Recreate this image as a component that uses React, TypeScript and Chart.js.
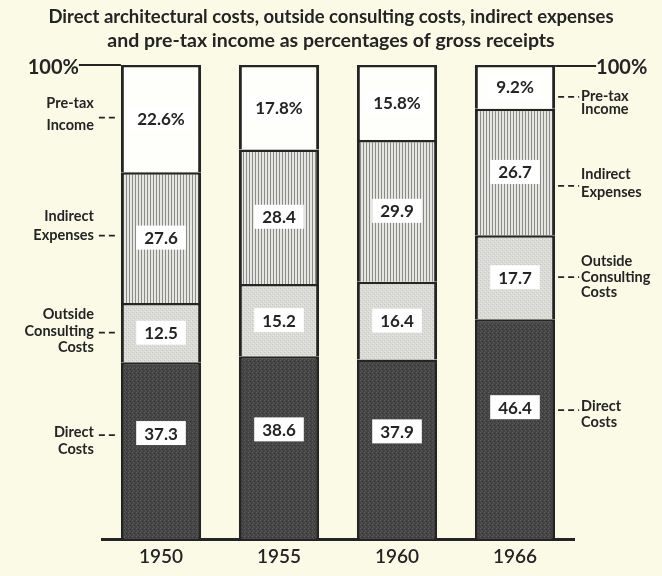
import React, { useEffect, useRef } from 'react';
import { Chart, registerables } from 'chart.js';

Chart.register(...registerables);

const categories = ['1950', '1955', '1960', '1966'];
const directCosts = [37.3, 38.6, 37.9, 46.4];
const outsideConsulting = [12.5, 15.2, 16.4, 17.7];
const indirectExpenses = [27.6, 28.4, 29.9, 26.7];
const pretaxIncome = [22.6, 17.8, 15.8, 9.2];
const seriesNames = [
  ['Direct', 'Costs'],
  ['Outside', 'Consulting', 'Costs'],
  ['Indirect', 'Expenses'],
  ['Pre-tax', 'Income'],
];
const titleLines = [
  'Direct architectural costs, outside consulting costs, indirect expenses',
  'and pre-tax income as percentages of gross receipts',
];
const topTickLabel = '100%';

const BG = '#fbfae7';
const INK = '#242424';
const FONT = 'Lato, "Open Sans", sans-serif';

// style: where the value box sits inside each segment (fraction from bottom)
const labelFraction = [0.6, 0.5, 0.5, 0.5];
// style: side label layout (dash offset from box centre, line offsets from dash)
const leftLayout = [
  { dash: 2, lines: [-3, 14] },
  { dash: 0, lines: [-18, -1, 15] },
  { dash: -2, lines: [-19, 0] },
  { dash: -1, lines: [-14, 8] },
];
const rightLayout = [
  { dash: 3, lines: [-4, 12] },
  { dash: 0, lines: [-16, 0, 15] },
  { dash: 14, lines: [-12, 6] },
  { dash: 10, lines: [0, 13] },
];

function makePattern(w: number, h: number, draw: (g: CanvasRenderingContext2D) => void) {
  const c = document.createElement('canvas');
  c.width = w;
  c.height = h;
  const g = c.getContext('2d')!;
  draw(g);
  return g.createPattern(c, 'repeat')!;
}

function px(g: CanvasRenderingContext2D, x: number, y: number, col: string) {
  g.fillStyle = col;
  g.fillRect(x, y, 1, 1);
}

export default function App() {
  const ref = useRef<HTMLCanvasElement | null>(null);

  useEffect(() => {
    document.body.style.margin = '0';
    document.body.style.background = BG;
    const canvas = ref.current!;

    const darkPat = makePattern(4, 4, (g) => {
      g.fillStyle = '#454545';
      g.fillRect(0, 0, 4, 4);
      px(g, 0, 0, '#5e5e5e');
      px(g, 2, 1, '#333333');
      px(g, 1, 2, '#555555');
      px(g, 3, 3, '#3a3a3a');
      px(g, 2, 3, '#5a5a5a');
    });
    const lightPat = makePattern(4, 4, (g) => {
      g.fillStyle = '#dadad6';
      g.fillRect(0, 0, 4, 4);
      px(g, 0, 0, '#c6c6c2');
      px(g, 2, 2, '#c8c8c4');
      px(g, 1, 3, '#ebebe7');
      px(g, 3, 1, '#e6e6e2');
    });
    const stripePat = makePattern(3, 4, (g) => {
      g.fillStyle = '#e6e6e2';
      g.fillRect(0, 0, 3, 4);
      g.fillStyle = '#8a8a88';
      g.fillRect(0, 0, 1, 4);
    });
    const whiteFill = '#fefefb';

    const annotate = {
      id: 'annotate',
      afterDatasetsDraw(chart: any) {
        const ctx = chart.ctx as CanvasRenderingContext2D;
        const ys = chart.scales.y;
        const n = chart.data.labels.length;
        const centers: number[][] = [];
        ctx.save();
        // value boxes
        chart.data.datasets.forEach((ds: any, di: number) => {
          const meta = chart.getDatasetMeta(di);
          centers[di] = [];
          meta.data.forEach((el: any, i: number) => {
            const top = Math.min(el.y, el.base);
            const bot = Math.max(el.y, el.base);
            const cy = bot - (bot - top) * labelFraction[di];
            centers[di][i] = cy;
            const v = ds.data[i];
            const txt = di === 3 ? v.toFixed(1) + '%' : v.toFixed(1);
            ctx.font = `bold 17px ${FONT}`;
            const w = ctx.measureText(txt).width + 16;
            ctx.fillStyle = '#ffffff';
            ctx.fillRect(el.x - w / 2, cy - 12, w, 24);
            ctx.fillStyle = INK;
            ctx.textAlign = 'center';
            ctx.textBaseline = 'middle';
            ctx.fillText(txt, el.x, cy + 1);
          });
        });
        // side labels
        const first = chart.getDatasetMeta(0).data[0];
        const last = chart.getDatasetMeta(0).data[n - 1];
        const leftX = first.x - first.width / 2;
        const rightX = last.x + last.width / 2;
        ctx.strokeStyle = INK;
        ctx.fillStyle = INK;
        ctx.lineWidth = 1.8;
        ctx.font = `bold 14.5px ${FONT}`;
        ctx.textBaseline = 'middle';
        seriesNames.forEach((lines, di) => {
          const ly = centers[di][0] + leftLayout[di].dash;
          ctx.setLineDash([6, 4]);
          ctx.beginPath();
          ctx.moveTo(leftX - 22, ly);
          ctx.lineTo(leftX - 4, ly);
          ctx.stroke();
          ctx.setLineDash([]);
          ctx.textAlign = 'right';
          lines.forEach((t, k) => ctx.fillText(t, leftX - 27, ly + leftLayout[di].lines[k]));

          const ry = centers[di][n - 1] + rightLayout[di].dash;
          ctx.setLineDash([6, 4]);
          ctx.beginPath();
          ctx.moveTo(rightX + 3, ry);
          ctx.lineTo(rightX + 24, ry);
          ctx.stroke();
          ctx.setLineDash([]);
          ctx.textAlign = 'left';
          lines.forEach((t, k) => ctx.fillText(t, rightX + 26, ry + rightLayout[di].lines[k]));
        });
        // 100% marks
        const y100 = ys.getPixelForValue(100);
        ctx.lineWidth = 1.8;
        ctx.beginPath();
        ctx.moveTo(leftX - 42, y100);
        ctx.lineTo(leftX, y100);
        ctx.moveTo(rightX, y100 + 1);
        ctx.lineTo(rightX + 41, y100 + 1);
        ctx.stroke();
        ctx.font = `bold 20px ${FONT}`;
        ctx.textAlign = 'right';
        ctx.fillText(topTickLabel, leftX - 42, y100 + 3);
        ctx.textAlign = 'left';
        ctx.fillText(topTickLabel, rightX + 41, y100 + 3);
        // title
        ctx.textAlign = 'center';
        const cx = chart.width / 2;
        ctx.font = `bold 18.5px ${FONT}`;
        ctx.fillText(titleLines[0], cx, 17);
        ctx.font = `bold 19.5px ${FONT}`;
        ctx.fillText(titleLines[1], cx, 41);
        ctx.restore();
      },
    };

    const chart = new Chart(canvas, {
      type: 'bar',
      data: {
        labels: categories,
        datasets: [
          { label: seriesNames[0].join(' '), data: directCosts, backgroundColor: darkPat },
          { label: seriesNames[1].join(' '), data: outsideConsulting, backgroundColor: lightPat },
          { label: seriesNames[2].join(' '), data: indirectExpenses, backgroundColor: stripePat },
          { label: seriesNames[3].join(' '), data: pretaxIncome, backgroundColor: whiteFill },
        ].map((d) => ({
          ...d,
          borderColor: INK,
          borderWidth: { top: 2.5, bottom: 0, left: 3, right: 3 },
          borderSkipped: false,
          barPercentage: 0.68,
          categoryPercentage: 1,
        })) as any,
      },
      options: {
        animation: false,
        responsive: false,
        maintainAspectRatio: false,
        layout: { padding: { left: 102, right: 88, top: 65, bottom: 2 } },
        plugins: {
          legend: { display: false },
          title: { display: false },
          tooltip: { enabled: false },
        },
        scales: {
          x: {
            stacked: true,
            grid: { display: false, drawTicks: false },
            border: { display: true, color: INK, width: 3 },
            ticks: {
              color: INK,
              padding: 6,
              font: { family: FONT, size: 19, weight: 600 as any },
            },
          },
          y: {
            stacked: true,
            display: false,
            min: 0,
            max: 100,
          },
        },
      },
      plugins: [annotate],
    });
    return () => chart.destroy();
  }, []);

  return (
    <div style={{ width: 662, height: 576, background: BG }}>
      <canvas ref={ref} width={662} height={576} style={{ display: 'block' }} />
    </div>
  );
}
